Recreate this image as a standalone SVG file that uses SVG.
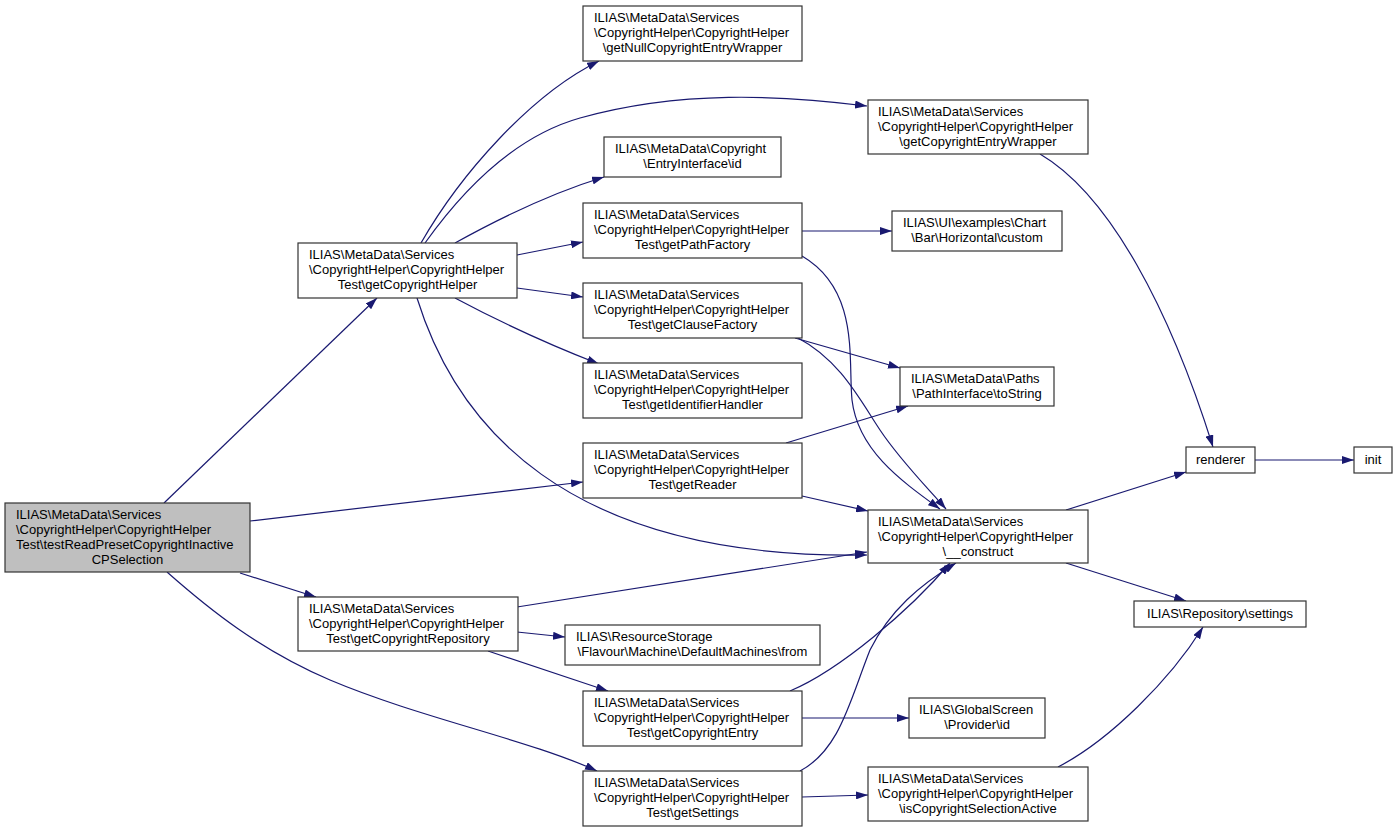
<svg xmlns="http://www.w3.org/2000/svg" width="1399" height="832" viewBox="0 0 1399 832">
<style>
.n{fill:#ffffff;stroke:#333333;stroke-width:1.2}
.m{fill:#bfbfbf;stroke:#333333;stroke-width:1.2}
text{font-family:"Liberation Sans",Arial,sans-serif;font-size:13px;fill:#000}
.c{text-anchor:middle}
.e{fill:none;stroke:#191970;stroke-width:1.2;marker-end:url(#ah)}
</style>
<defs>
<marker id="ah" markerWidth="12" markerHeight="8" refX="12" refY="4" orient="auto" markerUnits="userSpaceOnUse">
<path d="M0,0 L12,4 L0,8 z" fill="#191970"/>
</marker>
</defs>
<rect width="1399" height="832" fill="#ffffff"/>
<g id="connectors">
<path class="e" d="M164,503 L377,298"/>
<path class="e" d="M250,521 L583,482"/>
<path class="e" d="M240,573 L316,597"/>
<path class="e" d="M167,572 C210,610 260,650 330,680 C420,718 530,740 597,771"/>
<path class="e" d="M421,243 C460,175 530,95 599,61"/>
<path class="e" d="M425,243 C470,180 520,135 580,118 C680,90 780,95 867,106"/>
<path class="e" d="M455,243 C500,218 555,192 604,177"/>
<path class="e" d="M517,255 L583,242"/>
<path class="e" d="M517,288 L583,297"/>
<path class="e" d="M455,298 C500,322 550,345 599,364"/>
<path class="e" d="M417,298 C455,420 560,560 867,555"/>
<path class="e" d="M802,231 L892,231"/>
<path class="e" d="M802,256 C860,290 848,360 852,400 C858,450 900,480 940,509"/>
<path class="e" d="M795,338 L900,368"/>
<path class="e" d="M798,338 C840,360 860,400 880,430 C900,460 925,485 946,509"/>
<path class="e" d="M786,443 L908,406"/>
<path class="e" d="M802,496 L868,511"/>
<path class="e" d="M1040,154 C1110,195 1170,310 1213,447"/>
<path class="e" d="M1066,510 L1186,472"/>
<path class="e" d="M1066,563 L1186,601"/>
<path class="e" d="M1255,460 L1354,460"/>
<path class="e" d="M517,607 L867,552"/>
<path class="e" d="M517,632 L565,637"/>
<path class="e" d="M488,651 L608,691"/>
<path class="e" d="M790,691 C840,670 910,610 950,563"/>
<path class="e" d="M800,771 C840,750 850,700 870,650 C890,610 920,585 956,563"/>
<path class="e" d="M802,718 L909,718"/>
<path class="e" d="M802,797 L868,795"/>
<path class="e" d="M1058,767 C1110,740 1170,680 1203,627"/>
</g>
<g id="main">
<rect class="m" x="5" y="503" width="245" height="69"/>
<text x="16" y="519">ILIAS\MetaData\Services</text>
<text x="16" y="534">\CopyrightHelper\CopyrightHelper</text>
<text x="16" y="549">Test\testReadPresetCopyrightInactive</text>
<text class="c" x="127.5" y="564">CPSelection</text>
</g>
<g id="getCopyrightHelper">
<rect class="n" x="298" y="243" width="219" height="55"/>
<text x="309" y="259">ILIAS\MetaData\Services</text>
<text x="309" y="274">\CopyrightHelper\CopyrightHelper</text>
<text class="c" x="407.5" y="289">Test\getCopyrightHelper</text>
</g>
<g id="getNullCopyrightEntryWrapper">
<rect class="n" x="583" y="6" width="219" height="55"/>
<text x="594" y="22">ILIAS\MetaData\Services</text>
<text x="594" y="37">\CopyrightHelper\CopyrightHelper</text>
<text class="c" x="692.5" y="52">\getNullCopyrightEntryWrapper</text>
</g>
<g id="entryInterfaceId">
<rect class="n" x="604" y="137" width="177" height="40"/>
<text x="615" y="153">ILIAS\MetaData\Copyright</text>
<text class="c" x="692.5" y="168">\EntryInterface\id</text>
</g>
<g id="getPathFactory">
<rect class="n" x="583" y="203" width="219" height="55"/>
<text x="594" y="219">ILIAS\MetaData\Services</text>
<text x="594" y="234">\CopyrightHelper\CopyrightHelper</text>
<text class="c" x="692.5" y="249">Test\getPathFactory</text>
</g>
<g id="getClauseFactory">
<rect class="n" x="583" y="283" width="219" height="55"/>
<text x="594" y="299">ILIAS\MetaData\Services</text>
<text x="594" y="314">\CopyrightHelper\CopyrightHelper</text>
<text class="c" x="692.5" y="329">Test\getClauseFactory</text>
</g>
<g id="getIdentifierHandler">
<rect class="n" x="583" y="363" width="219" height="55"/>
<text x="594" y="379">ILIAS\MetaData\Services</text>
<text x="594" y="394">\CopyrightHelper\CopyrightHelper</text>
<text class="c" x="692.5" y="409">Test\getIdentifierHandler</text>
</g>
<g id="getReader">
<rect class="n" x="583" y="443" width="219" height="55"/>
<text x="594" y="459">ILIAS\MetaData\Services</text>
<text x="594" y="474">\CopyrightHelper\CopyrightHelper</text>
<text class="c" x="692.5" y="489">Test\getReader</text>
</g>
<g id="getCopyrightRepository">
<rect class="n" x="298" y="597" width="220" height="54"/>
<text x="309" y="613">ILIAS\MetaData\Services</text>
<text x="309" y="628">\CopyrightHelper\CopyrightHelper</text>
<text class="c" x="408" y="643">Test\getCopyrightRepository</text>
</g>
<g id="defaultMachinesFrom">
<rect class="n" x="565" y="625" width="255" height="40"/>
<text x="576" y="641">ILIAS\ResourceStorage</text>
<text class="c" x="692.5" y="656">\Flavour\Machine\DefaultMachines\from</text>
</g>
<g id="getCopyrightEntry">
<rect class="n" x="583" y="691" width="219" height="55"/>
<text x="594" y="707">ILIAS\MetaData\Services</text>
<text x="594" y="722">\CopyrightHelper\CopyrightHelper</text>
<text class="c" x="692.5" y="737">Test\getCopyrightEntry</text>
</g>
<g id="getSettings">
<rect class="n" x="583" y="771" width="219" height="55"/>
<text x="594" y="787">ILIAS\MetaData\Services</text>
<text x="594" y="802">\CopyrightHelper\CopyrightHelper</text>
<text class="c" x="692.5" y="817">Test\getSettings</text>
</g>
<g id="getCopyrightEntryWrapper">
<rect class="n" x="868" y="100" width="220" height="54"/>
<text x="878" y="116">ILIAS\MetaData\Services</text>
<text x="878" y="131">\CopyrightHelper\CopyrightHelper</text>
<text class="c" x="978" y="146">\getCopyrightEntryWrapper</text>
</g>
<g id="chartCustom">
<rect class="n" x="892" y="211" width="170" height="40"/>
<text x="903" y="227">ILIAS\UI\examples\Chart</text>
<text class="c" x="977" y="242">\Bar\Horizontal\custom</text>
</g>
<g id="pathToString">
<rect class="n" x="900" y="367" width="154" height="39"/>
<text x="911" y="383">ILIAS\MetaData\Paths</text>
<text class="c" x="977" y="398">\PathInterface\toString</text>
</g>
<g id="construct">
<rect class="n" x="868" y="510" width="220" height="53"/>
<text x="878" y="526">ILIAS\MetaData\Services</text>
<text x="878" y="541">\CopyrightHelper\CopyrightHelper</text>
<text class="c" x="978" y="556">\__construct</text>
</g>
<g id="providerId">
<rect class="n" x="909" y="698" width="136" height="40"/>
<text x="919" y="714">ILIAS\GlobalScreen</text>
<text class="c" x="977" y="729">\Provider\id</text>
</g>
<g id="isCopyrightSelectionActive">
<rect class="n" x="868" y="767" width="220" height="54"/>
<text x="878" y="783">ILIAS\MetaData\Services</text>
<text x="878" y="798">\CopyrightHelper\CopyrightHelper</text>
<text class="c" x="978" y="813">\isCopyrightSelectionActive</text>
</g>
<g id="renderer">
<rect class="n" x="1186" y="447" width="69" height="26"/>
<text class="c" x="1220.5" y="464">renderer</text>
</g>
<g id="init">
<rect class="n" x="1354" y="447" width="38" height="26"/>
<text class="c" x="1373" y="464">init</text>
</g>
<g id="repositorySettings">
<rect class="n" x="1134" y="601" width="172" height="26"/>
<text class="c" x="1220" y="618">ILIAS\Repository\settings</text>
</g>
</svg>
